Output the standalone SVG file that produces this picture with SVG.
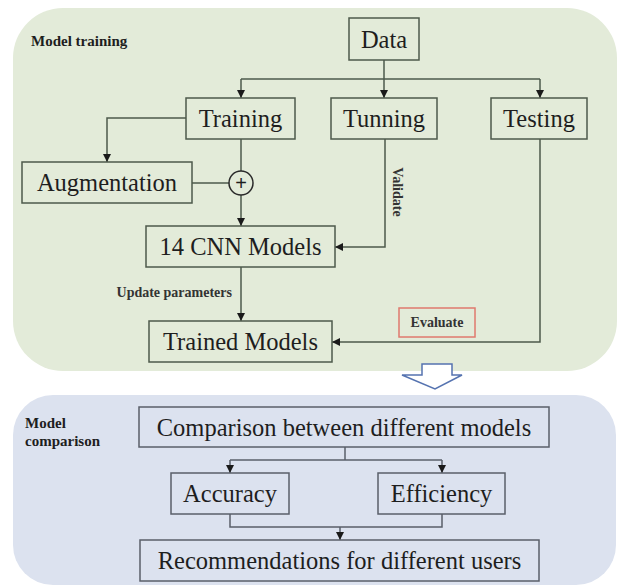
<svg xmlns="http://www.w3.org/2000/svg" width="619" height="588" viewBox="0 0 619 588">
<defs>
<marker id="ah" viewBox="0 0 10 10" refX="10" refY="5" markerWidth="8" markerHeight="8" markerUnits="userSpaceOnUse" orient="auto">
<path d="M0,0 L10,5 L0,10 z" fill="#1a1a1a"/>
</marker>
</defs>
<style>
.box{fill:none;stroke:#4d5a4b;stroke-width:1.5}
.bbox{fill:none;stroke:#5a5f6a;stroke-width:1.5}
.t{font-family:"Liberation Serif","Times New Roman",serif;font-size:24.5px;fill:#1e1e1e;text-anchor:middle}
.s{font-family:"Liberation Serif","Times New Roman",serif;font-size:14px;fill:#333;font-weight:bold}
.h{font-family:"Liberation Serif","Times New Roman",serif;font-size:15px;fill:#1e1e1e;font-weight:bold}
.c{fill:none;stroke:#4d5a4b;stroke-width:1.5}
.cb{fill:none;stroke:#5a5f6a;stroke-width:1.5}
</style>
<rect width="619" height="588" fill="#ffffff"/>
<rect x="13" y="8" width="604" height="363" rx="50" fill="#e3ebd9"/>
<rect x="13" y="395" width="603" height="190" rx="40" fill="#dce2ef"/>
<text class="h" x="31" y="46">Model training</text>
<text class="h" x="25" y="428">Model</text>
<text class="h" x="25" y="446">comparison</text>
<path d="M422,364 H452 V375 H462 L435,389 L402,375 H422 Z" fill="#ffffff" stroke="#5573b0" stroke-width="1.5" stroke-linejoin="miter"/>
<g id="connectors">
<path class="c" d="M384,60 V98" marker-end="url(#ah)"/>
<path class="c" d="M241,79 H540"/>
<path class="c" d="M241,79 V98" marker-end="url(#ah)"/>
<path class="c" d="M540,79 V98" marker-end="url(#ah)"/>
<path class="c" d="M186,118 H107 V162" marker-end="url(#ah)"/>
<path class="c" d="M241,139 V171"/>
<path class="c" d="M192,183 H229"/>
<path class="c" d="M241,195 V226" marker-end="url(#ah)"/>
<path class="c" d="M385,139 V247 H335" marker-end="url(#ah)"/>
<path class="c" d="M241,267 V321" marker-end="url(#ah)"/>
<path class="c" d="M540,139 V342 H332" marker-end="url(#ah)"/>
<text class="s" x="232" y="297" text-anchor="end">Update parameters</text>
<text class="s" transform="translate(393,192) rotate(90)" text-anchor="middle">Validate</text>
<path class="cb" d="M345,447 V460"/>
<path class="cb" d="M230,460 H442"/>
<path class="cb" d="M230,460 V473" marker-end="url(#ah)"/>
<path class="cb" d="M442,460 V473" marker-end="url(#ah)"/>
<path class="cb" d="M230,514 V527 H442 V514"/>
<path class="cb" d="M340,527 V540" marker-end="url(#ah)"/>
</g>
<g id="plus">
<circle cx="241" cy="183" r="12" fill="none" stroke="#2a2a2a" stroke-width="1.5"/>
<text x="241" y="190" font-family="Liberation Sans, Arial, sans-serif" font-size="20" fill="#1e1e1e" text-anchor="middle">+</text>
</g>
<g id="evaluate">
<rect x="399" y="308" width="76" height="29" fill="none" stroke="#e07a6e" stroke-width="1.5"/>
<text class="s" x="437" y="327" text-anchor="middle">Evaluate</text>
</g>
<g id="data"><rect class="box" x="349" y="18" width="70" height="42"/><text class="t" x="384" y="47.5">Data</text></g>
<g id="training"><rect class="box" x="186" y="98" width="109" height="41"/><text class="t" x="240.5" y="127">Training</text></g>
<g id="tunning"><rect class="box" x="331" y="98" width="106" height="41"/><text class="t" x="384" y="127">Tunning</text></g>
<g id="testing"><rect class="box" x="491" y="98" width="96" height="41"/><text class="t" x="539" y="127">Testing</text></g>
<g id="augmentation"><rect class="box" x="22" y="162" width="170" height="41"/><text class="t" x="107" y="191">Augmentation</text></g>
<g id="cnn"><rect class="box" x="146" y="226" width="189" height="41"/><text class="t" x="240.5" y="255">14 CNN Models</text></g>
<g id="trained"><rect class="box" x="149" y="321" width="183" height="41"/><text class="t" x="240.5" y="350">Trained Models</text></g>
<g id="comparison"><rect class="bbox" x="139" y="407" width="410" height="40"/><text class="t" x="344" y="435.5">Comparison between different models</text></g>
<g id="accuracy"><rect class="bbox" x="171" y="473" width="118" height="41"/><text class="t" x="230" y="502">Accuracy</text></g>
<g id="efficiency"><rect class="bbox" x="378" y="473" width="127" height="41"/><text class="t" x="441.5" y="502">Efficiency</text></g>
<g id="recommendations"><rect class="bbox" x="140" y="540" width="399" height="41"/><text class="t" x="339.5" y="569">Recommendations for different users</text></g>
</svg>
